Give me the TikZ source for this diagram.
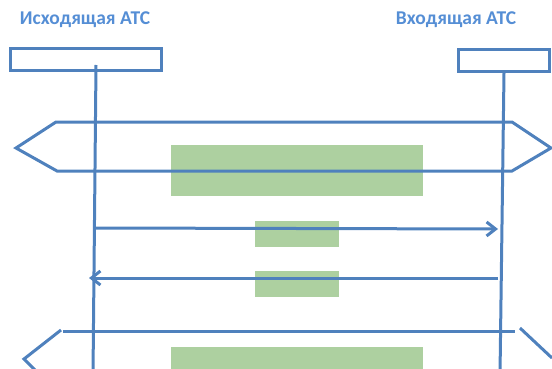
\documentclass[tikz,border=0pt]{standalone}
\usepackage{fontspec}
\setmainfont{Carlito}
\usetikzlibrary{arrows.meta}
\definecolor{lineblue}{RGB}{79,129,189}
\definecolor{textblue}{RGB}{85,142,213}
\definecolor{msggreen}{RGB}{173,208,160}
\begin{document}
\begin{tikzpicture}[x=1pt,y=-1pt,
  ln/.style={draw=lineblue,line width=3pt},
  ent/.style={draw=lineblue,line width=3pt,minimum width=#1,minimum height=22pt,inner sep=0pt,anchor=north west},
  ttl/.style={text=textblue,font=\bfseries\fontsize{19.5}{22}\selectfont,inner sep=0pt},
  gbox/.style={fill=msggreen,draw=none,inner sep=0pt,anchor=north west},
  msg/.style={ln,-{Straight Barb[length=9pt,width=14pt,line width=3pt]}}]
\useasboundingbox (0,0) rectangle (552,369);
\clip (0,0) rectangle (552,369);
% titles
\node[ttl] (t1) at (85,20) {Исходящая АТС};
\node[ttl] (t2) at (456,20) {Входящая АТС};
% entity boxes
\node[ent=151pt] (e1) at (9,47) {};
\node[ent=91pt] (e2) at (457,48) {};
% green message boxes
\node[gbox,minimum width=252pt,minimum height=51pt] (g1) at (171,145) {};
\node[gbox,minimum width=84pt,minimum height=26pt] (g2) at (255,221) {};
\node[gbox,minimum width=84pt,minimum height=26pt] (g3) at (255,271) {};
\node[gbox,minimum width=252pt,minimum height=30pt] (g4) at (171,347) {};
% lifelines
\coordinate (l1top) at (96,65);
\coordinate (l1bot) at (93,375);
\coordinate (r1bot) at (500,375);
\draw[ln] (l1top) -- (l1bot);
\draw[ln] (e2.south) -- (r1bot);
% upper hexagon
\draw[ln,line join=miter] (56,122) -- (512,122) -- (551,148) -- (512,171) -- (57,171) -- (16,148) -- cycle;
% messages
\coordinate (a1s) at (95,228);
\coordinate (a1e) at (498,229);
\coordinate (a2s) at (498,278);
\coordinate (a2e) at (89,278);
\draw[msg] (a1s) -- (a1e);
\draw[msg] (a2s) -- (a2e);
% lower hexagon (partly cut)
\draw[ln] (63,331) -- (515,331);
\draw[ln] (61,330) -- (24,359) -- (40,375);
\draw[ln] (520,328) -- (552,358);
\end{tikzpicture}
\end{document}
